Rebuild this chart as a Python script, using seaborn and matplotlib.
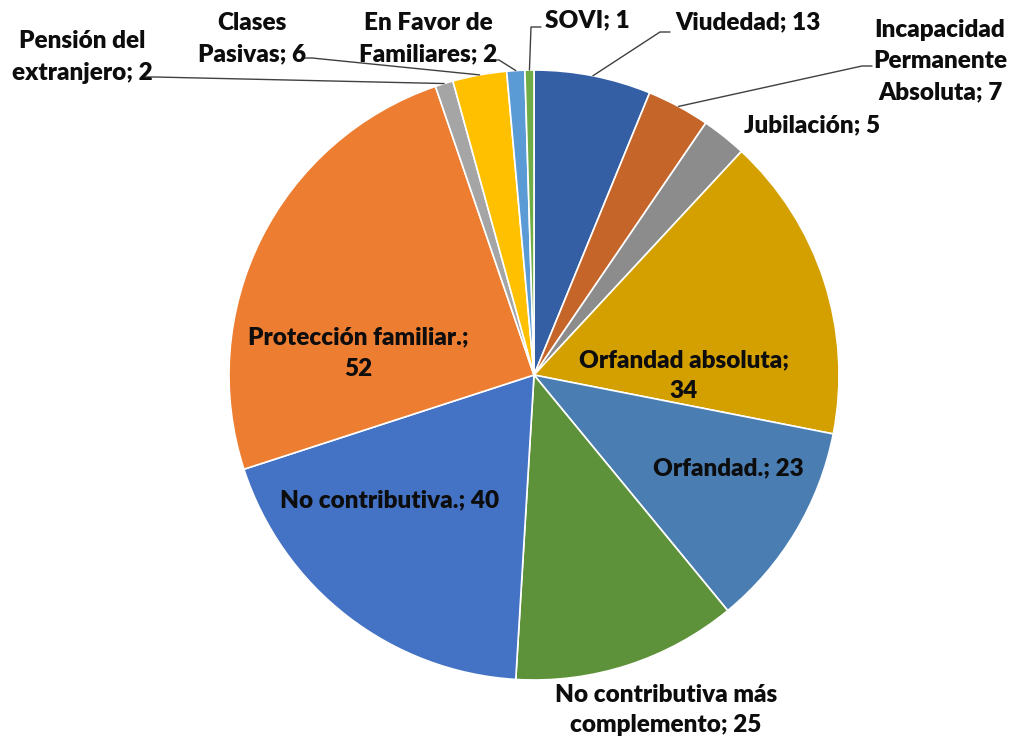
import numpy as np
import matplotlib
matplotlib.use("Agg")
import matplotlib.pyplot as plt
import seaborn as sns

sns.set_theme(style="white")
plt.rcParams['font.family'] = ['Lato', 'DejaVu Sans']

# data (clockwise from 12 o'clock)
categorias = ["Viudedad", "Incapacidad\nPermanente\nAbsoluta", "Jubilación",
              "Orfandad absoluta;\n", "Orfandad.", "No contributiva más\ncomplemento",
              "No contributiva.", "Protección familiar.;\n", "Pensión del\nextranjero",
              "Clases\nPasivas", "En Favor de\nFamiliares", "SOVI"]
valores = [13, 7, 5, 34, 23, 25, 40, 52, 2, 6, 2, 1]
colores = ["#355FA5", "#C5652A", "#8C8C8C", "#D4A000", "#4A7EB3", "#5E923A",
           "#4472C4", "#ED7D31", "#A5A5A5", "#FFC000", "#5B9BD5", "#70AD47"]

# label layout in pixel coords (top-left origin): text x, text y, ha, elbow (None = inside)
layout = [
    (675, 22, "left", (660, 32)),
    (940, 61, "center", (862, 66)),
    (812, 125, "center", None),
    (684, 376, "center", None),
    (728, 468, "center", None),
    (666, 710, "center", None),
    (390, 500, "center", None),
    (358, 353, "center", None),
    (82, 57, "center", (155, 77)),
    (252, 39, "center", (312, 58)),
    (428, 39, "center", (499, 60)),
    (545, 20, "left", (531, 27)),
]

W, H = 1016, 738
cx, cy, r = 534, H - 375, 305

fig = plt.figure(figsize=(W / 100, H / 100), dpi=100)
ax = fig.add_axes([0, 0, 1, 1])
wedges, _ = ax.pie(valores, colors=colores, startangle=90, counterclock=False,
                   radius=r, center=(cx, cy),
                   wedgeprops=dict(edgecolor="white", linewidth=1.2))
ax.set_xlim(0, W)
ax.set_ylim(0, H)
ax.set_aspect("equal")
ax.axis("off")

for w, cat, val, (tx, ty, ha, elbow) in zip(wedges, categorias, valores, layout):
    if cat.endswith(";\n"):
        txt = cat + str(val)
    else:
        txt = f"{cat}; {val}"
    ax.text(tx, H - ty, txt, ha=ha, va="center", fontsize=17.5, fontweight="heavy",
            color="#0d0d0d", linespacing=1.5)
    if elbow is not None:
        ang = np.deg2rad((w.theta1 + w.theta2) / 2)
        px, py = cx + r * np.cos(ang), cy + r * np.sin(ang)
        ex, ey = elbow[0], H - elbow[1]
        end = ex + 10 if ex > px else ex - 10
        ax.plot([px, ex, end], [py, ey, ey], color="#404040", lw=1)

fig.savefig("out.png", dpi=100)
